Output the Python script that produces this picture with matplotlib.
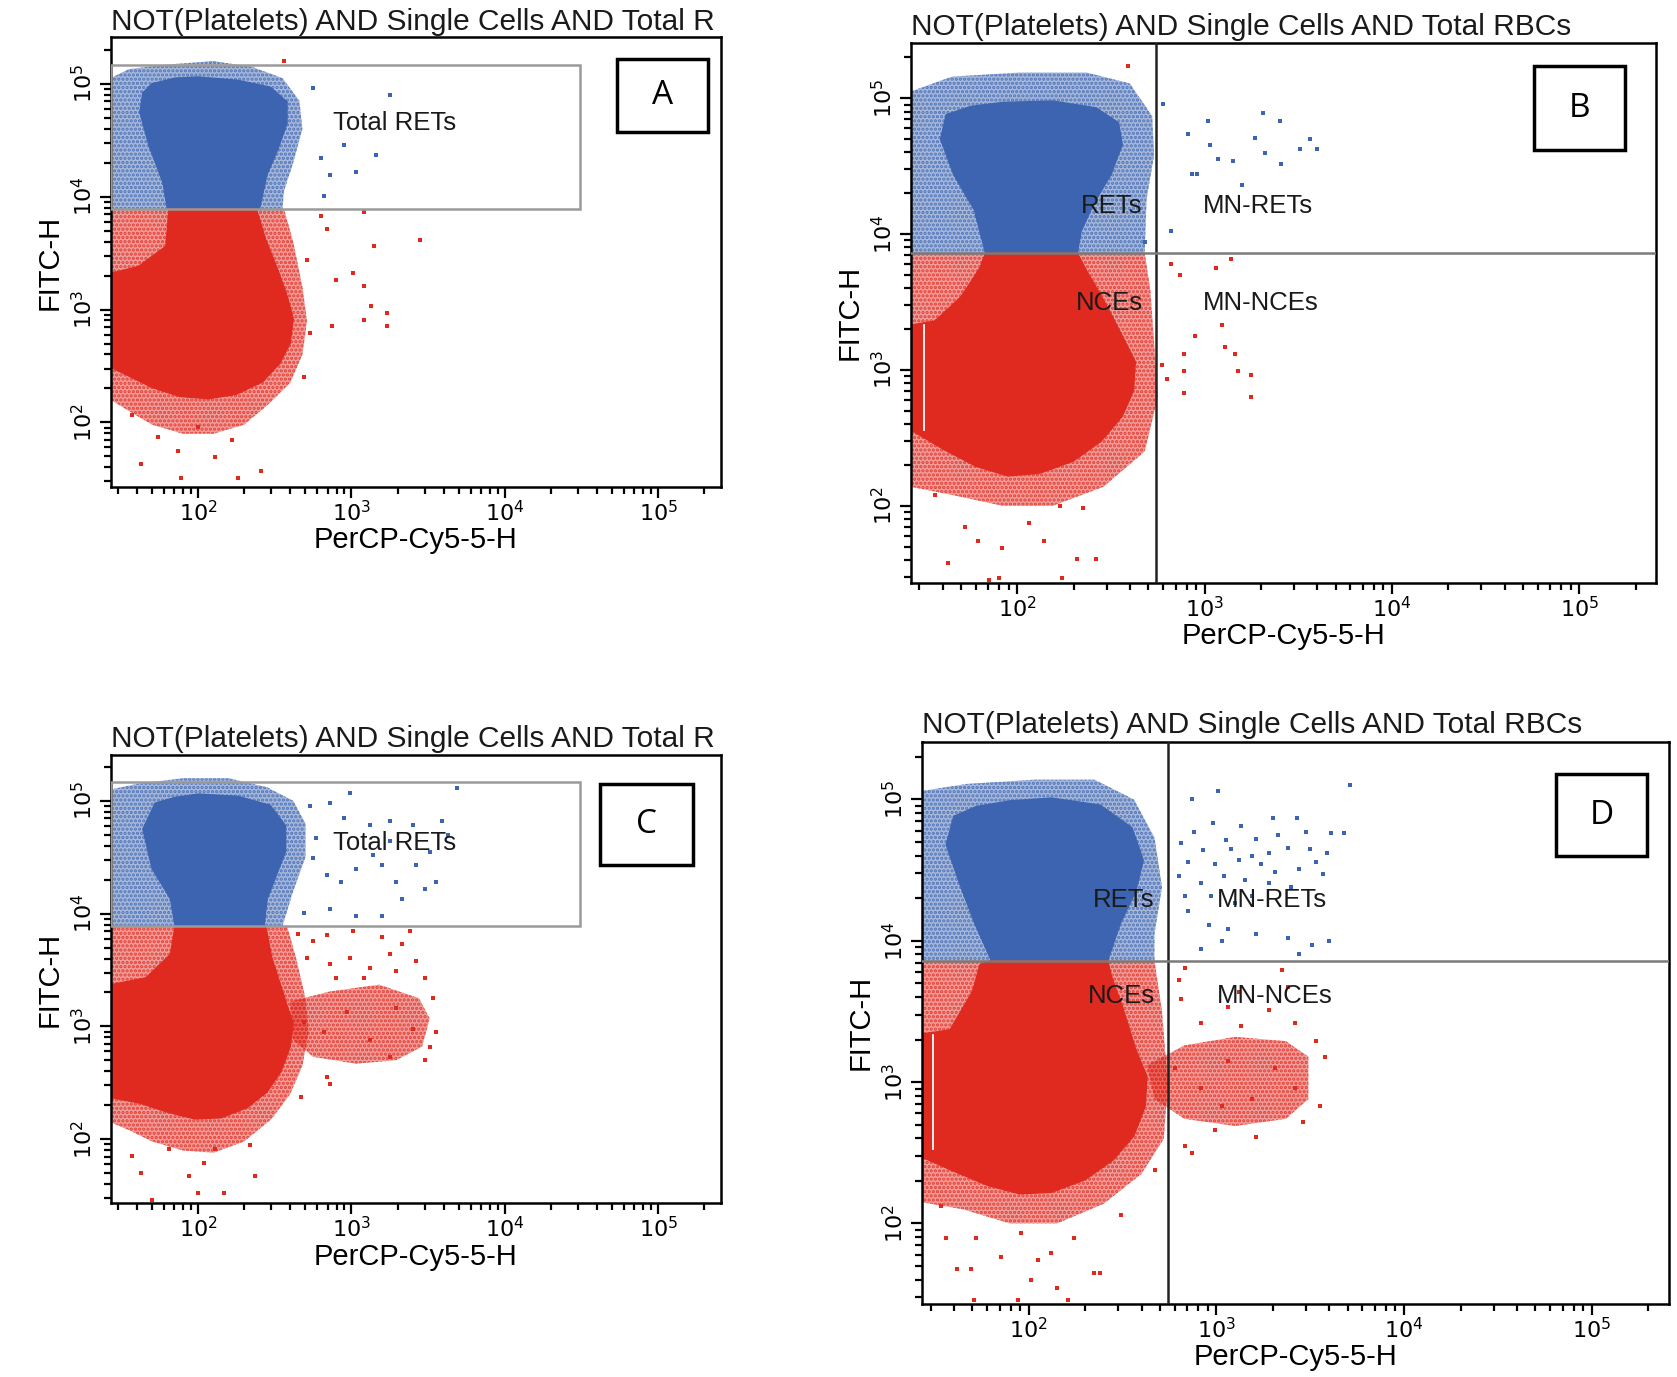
import numpy as np
import matplotlib
matplotlib.use("Agg")
import matplotlib.pyplot as plt
from matplotlib.patches import Rectangle
from matplotlib.ticker import LogLocator, NullFormatter, FixedLocator

plt.rcParams['font.family'] = ['Liberation Sans', 'DejaVu Sans']
plt.rcParams['hatch.linewidth'] = 1.6

BLUE = '#3d64b0'
RED = '#e0291f'

# axis range (log10) shared by every panel
LOG_MIN, LOG_MAX = 1.43, 5.41

titles = ["NOT(Platelets) AND Single Cells AND Total R",
          "NOT(Platelets) AND Single Cells AND Total RBCs",
          "NOT(Platelets) AND Single Cells AND Total R",
          "NOT(Platelets) AND Single Cells AND Total RBCs"]
panel_letters = ["A", "B", "C", "D"]

# gates (log10 values)
rets_gate_a = [LOG_MIN, 4.49, 3.89, 5.17]   # x0, x1, y0, y1
rets_gate_c = [LOG_MIN, 4.49, 3.89, 5.17]
quad_b = [2.74, 3.86]                         # vertical x, horizontal y
quad_d = [2.74, 3.86]

# ---- cloud outlines, (log10 x, log10 y) ----
a_blue_halo = [(1.43, 5.05), (1.55, 5.13), (1.8, 5.17), (2.1, 5.2), (2.35, 5.15), (2.55, 5.05),
               (2.66, 4.85), (2.68, 4.6), (2.62, 4.3), (2.56, 4.05), (2.55, 3.89), (1.43, 3.89)]
a_blue_core = [(1.70, 5.0), (1.85, 5.05), (2.0, 5.06), (2.26, 5.03), (2.47, 4.97), (2.58, 4.84),
               (2.58, 4.65), (2.52, 4.42), (2.45, 4.20), (2.40, 3.89), (1.80, 3.89), (1.77, 4.13),
               (1.68, 4.45), (1.62, 4.75), (1.64, 4.92)]
a_red_halo = [(1.43, 3.89), (2.56, 3.89), (2.62, 3.6), (2.68, 3.2), (2.71, 2.9), (2.68, 2.6),
              (2.6, 2.35), (2.45, 2.15), (2.3, 1.98), (2.1, 1.9), (1.9, 1.9), (1.7, 1.98),
              (1.55, 2.1), (1.43, 2.2)]
a_red_core = [(1.81, 3.89), (2.38, 3.89), (2.44, 3.62), (2.52, 3.35), (2.58, 3.12), (2.62, 2.92),
              (2.60, 2.70), (2.53, 2.52), (2.42, 2.36), (2.25, 2.25), (2.07, 2.21), (1.88, 2.23),
              (1.70, 2.31), (1.55, 2.41), (1.43, 2.49), (1.43, 3.32), (1.61, 3.38), (1.79, 3.56)]

b_blue_halo = [(1.43, 5.05), (1.65, 5.16), (2.01, 5.19), (2.37, 5.19), (2.60, 5.11), (2.72, 4.87),
               (2.73, 4.58), (2.69, 4.26), (2.68, 3.86), (1.43, 3.86)]
b_blue_core = [(1.62, 4.88), (1.75, 4.94), (1.92, 4.97), (2.19, 4.98), (2.42, 4.93), (2.54, 4.82),
               (2.56, 4.66), (2.50, 4.44), (2.41, 4.23), (2.34, 4.02), (2.32, 3.86), (1.83, 3.86),
               (1.77, 4.18), (1.66, 4.44), (1.59, 4.70)]
b_red_halo = [(1.43, 3.86), (2.68, 3.86), (2.71, 3.59), (2.73, 3.20), (2.75, 2.80), (2.68, 2.40),
              (2.46, 2.14), (2.19, 2.00), (1.92, 2.00), (1.65, 2.08), (1.43, 2.14)]
b_red_core = [(1.83, 3.86), (2.32, 3.86), (2.37, 3.73), (2.47, 3.49), (2.56, 3.25), (2.63, 3.06),
              (2.62, 2.85), (2.56, 2.66), (2.45, 2.48), (2.30, 2.33), (2.12, 2.24), (1.95, 2.22),
              (1.78, 2.29), (1.60, 2.42), (1.43, 2.56), (1.43, 3.33), (1.56, 3.36), (1.70, 3.54),
              (1.80, 3.75)]

c_blue_halo = [(1.43, 5.10), (1.6, 5.15), (1.9, 5.2), (2.2, 5.2), (2.45, 5.12), (2.62, 5.0),
               (2.7, 4.8), (2.7, 4.5), (2.62, 4.2), (2.55, 3.89), (1.43, 3.89)]
c_blue_core = [(1.72, 4.98), (1.85, 5.03), (2.0, 5.06), (2.26, 5.04), (2.47, 4.96), (2.57, 4.78),
               (2.57, 4.55), (2.51, 4.34), (2.45, 4.13), (2.43, 3.89), (1.85, 3.89), (1.82, 4.13),
               (1.70, 4.40), (1.64, 4.75)]
c_red_halo = [(1.43, 3.89), (2.58, 3.89), (2.64, 3.6), (2.7, 3.25), (2.72, 2.95), (2.68, 2.65),
              (2.6, 2.4), (2.48, 2.18), (2.3, 1.98), (2.1, 1.88), (1.9, 1.9), (1.7, 1.98),
              (1.55, 2.08), (1.43, 2.15)]
c_red_core = [(1.85, 3.89), (2.44, 3.89), (2.48, 3.61), (2.56, 3.27), (2.62, 3.02), (2.60, 2.82),
              (2.54, 2.60), (2.45, 2.42), (2.32, 2.28), (2.15, 2.19), (1.98, 2.18), (1.80, 2.24),
              (1.62, 2.32), (1.43, 2.37), (1.43, 3.37), (1.66, 3.43), (1.82, 3.64)]
c_red_tail = [(2.60, 3.22), (2.86, 3.31), (3.18, 3.37), (3.44, 3.25), (3.51, 3.07), (3.46, 2.82),
              (3.29, 2.70), (3.03, 2.67), (2.75, 2.73), (2.62, 2.88)]

d_blue_halo = [(1.43, 5.06), (1.67, 5.11), (2.03, 5.14), (2.35, 5.14), (2.56, 5.0), (2.67, 4.73),
               (2.71, 4.38), (2.67, 4.05), (2.67, 3.86), (1.43, 3.86)]
d_blue_core = [(1.60, 4.88), (1.72, 4.95), (1.90, 4.99), (2.12, 5.01), (2.38, 4.96), (2.55, 4.80),
               (2.61, 4.57), (2.57, 4.35), (2.49, 4.13), (2.42, 3.86), (1.80, 3.86), (1.71, 4.13),
               (1.63, 4.41), (1.56, 4.68)]
d_red_halo = [(1.43, 3.86), (2.67, 3.86), (2.71, 3.5), (2.74, 3.0), (2.72, 2.6), (2.6, 2.35),
              (2.4, 2.14), (2.15, 2.0), (1.9, 2.0), (1.65, 2.1), (1.43, 2.15)]
d_red_core = [(1.80, 3.86), (2.42, 3.86), (2.44, 3.75), (2.50, 3.53), (2.57, 3.23), (2.63, 3.04),
              (2.62, 2.83), (2.56, 2.62), (2.45, 2.45), (2.30, 2.31), (2.12, 2.22), (1.95, 2.21),
              (1.78, 2.27), (1.60, 2.37), (1.43, 2.47), (1.43, 3.34), (1.58, 3.37), (1.70, 3.64),
              (1.74, 3.83)]
d_red_tail = [(2.63, 3.12), (2.83, 3.26), (3.10, 3.32), (3.37, 3.29), (3.49, 3.18), (3.49, 2.88),
              (3.37, 2.74), (3.10, 2.69), (2.83, 2.74), (2.67, 2.88)]

# ---- scattered single events, (log10 x, log10 y) ----
a_blue_pts = [(2.75, 4.96), (2.80, 4.34), (2.82, 4.01), (2.95, 4.46), (3.03, 4.22), (3.16, 4.37),
              (2.86, 4.19), (3.25, 4.90)]
a_red_pts = [(2.80, 3.83), (2.84, 3.71), (3.08, 3.86), (3.15, 3.56), (3.01, 3.32), (2.90, 3.26),
             (3.08, 3.21), (3.13, 3.03), (3.23, 2.97), (3.08, 2.91), (3.23, 2.85), (2.87, 2.85),
             (3.45, 3.62), (2.71, 3.44), (2.73, 2.79), (2.69, 2.40), (1.63, 1.63), (1.89, 1.51),
             (2.26, 1.51), (2.41, 1.57), (1.74, 1.87), (1.87, 1.75), (2.11, 1.69), (2.22, 1.84),
             (2.0, 1.96), (1.57, 2.07), (2.56, 5.20)]

b_blue_pts = [(2.78, 4.96), (2.91, 4.74), (3.02, 4.83), (3.03, 4.66), (2.96, 4.44), (3.07, 4.55),
              (3.31, 4.89), (3.40, 4.83), (3.27, 4.71), (3.41, 4.52), (3.51, 4.63), (3.56, 4.70),
              (3.60, 4.63), (3.32, 4.60), (3.15, 4.54), (3.20, 4.36), (2.82, 4.02), (2.93, 4.44),
              (2.68, 3.94)]
b_red_pts = [(1.56, 2.08), (1.72, 1.84), (1.79, 1.74), (1.92, 1.69), (2.06, 1.87), (2.14, 1.74),
             (2.23, 2.0), (2.35, 1.98), (2.32, 1.61), (1.63, 1.58), (1.85, 1.45), (1.90, 1.47),
             (2.24, 1.47), (2.42, 1.61), (2.82, 3.78), (2.87, 3.70), (3.06, 3.75), (3.14, 3.82),
             (2.95, 3.25), (2.89, 3.12), (2.89, 2.99), (2.89, 2.83), (2.80, 2.93), (3.11, 3.17),
             (3.16, 3.12), (3.18, 2.99), (3.25, 2.96), (3.25, 2.80), (2.77, 3.04), (3.09, 3.33),
             (2.59, 5.24)]

c_blue_pts = [(2.73, 4.95), (2.86, 4.98), (2.99, 5.07), (3.25, 4.82), (3.59, 4.82), (3.69, 5.11),
              (2.77, 4.67), (2.84, 4.34), (2.93, 4.28), (3.03, 4.40), (3.12, 4.79), (3.14, 4.52),
              (3.20, 4.43), (3.29, 4.28), (3.33, 4.13), (3.42, 4.43), (3.48, 4.22), (3.55, 4.28),
              (3.03, 3.98), (3.20, 3.98), (2.86, 4.04), (2.69, 4.01), (2.75, 4.49), (3.63, 4.70),
              (2.95, 4.85), (3.25, 4.64), (3.40, 4.79), (3.51, 4.55)]
c_red_pts = [(2.65, 3.82), (2.75, 3.76), (2.84, 3.81), (3.01, 3.85), (3.20, 3.79), (3.38, 3.85),
             (2.71, 3.61), (2.86, 3.55), (2.99, 3.61), (3.12, 3.52), (3.25, 3.64), (3.33, 3.73),
             (3.42, 3.58), (3.48, 3.43), (2.90, 3.43), (3.08, 3.43), (3.29, 3.49), (3.53, 3.25),
             (3.51, 2.82), (3.48, 2.70), (2.86, 2.49), (2.67, 2.37), (2.84, 2.55), (2.69, 3.04),
             (2.82, 2.95), (2.97, 3.13), (3.12, 2.88), (3.29, 3.16), (3.40, 2.98), (3.25, 2.73),
             (3.55, 2.95), (1.63, 1.70), (1.70, 1.46), (2.0, 1.52), (2.17, 1.52), (2.37, 1.67),
             (1.94, 1.67), (1.81, 1.91), (1.57, 1.85), (2.11, 1.91), (2.34, 1.95), (2.04, 1.79)]

d_blue_pts = [(3.01, 5.06), (3.71, 5.10), (2.87, 5.0), (3.30, 4.87), (3.43, 4.87), (2.98, 4.83),
              (3.13, 4.81), (2.88, 4.77), (3.05, 4.71), (3.21, 4.72), (3.33, 4.75), (3.48, 4.77),
              (3.68, 4.76), (3.61, 4.76), (2.81, 4.69), (2.93, 4.64), (3.08, 4.65), (3.19, 4.60),
              (3.28, 4.62), (3.38, 4.66), (3.50, 4.65), (3.59, 4.62), (2.85, 4.56), (2.99, 4.54),
              (3.12, 4.57), (3.24, 4.54), (3.31, 4.49), (3.44, 4.51), (3.53, 4.56), (3.57, 4.47),
              (2.80, 4.46), (2.92, 4.41), (3.04, 4.46), (3.15, 4.43), (3.28, 4.41), (3.40, 4.38),
              (2.83, 4.32), (2.97, 4.32), (3.10, 4.27), (3.19, 4.32), (2.96, 4.11), (3.06, 4.08),
              (3.21, 4.05), (3.38, 4.02), (3.51, 3.97), (2.92, 3.94), (3.44, 3.91), (3.60, 4.0),
              (2.85, 4.21), (3.03, 4.0)]
d_red_pts = [(2.83, 3.81), (3.35, 3.79), (2.81, 3.59), (3.12, 3.64), (3.38, 3.67), (2.92, 3.42),
             (3.13, 3.40), (3.53, 3.29), (3.58, 3.18), (2.87, 2.50), (2.83, 2.55), (2.99, 2.66),
             (3.21, 2.61), (3.46, 2.72), (3.55, 2.83), (2.80, 3.72), (3.06, 3.53), (3.28, 3.51),
             (3.42, 3.42), (2.78, 3.10), (2.92, 2.96), (3.06, 3.15), (3.19, 2.88), (3.31, 3.10),
             (3.42, 2.96), (3.03, 2.83), (1.53, 2.12), (1.62, 1.68), (1.69, 1.68), (1.85, 1.76),
             (2.05, 1.74), (2.15, 1.54), (2.35, 1.65), (2.38, 1.65), (2.01, 1.60), (1.56, 1.90),
             (1.72, 1.90), (1.96, 1.93), (2.24, 1.90), (2.12, 1.79), (2.49, 2.06), (2.67, 2.38),
             (1.71, 1.46), (1.94, 1.46), (2.21, 1.46)]

# thin white artefact line inside the red cloud of B and D
white_line_b = [1.50, 2.56, 3.33]
white_line_d = [1.49, 2.53, 3.33]

# gate label text: (text, log10 x, log10 y, ha)
labels_a = [("Total RETs", 2.88, 4.65, 'left')]
labels_c = [("Total RETs", 2.88, 4.63, 'left')]
labels_b = [("RETs", 2.67, 4.21, 'right'), ("MN-RETs", 2.99, 4.21, 'left'),
            ("NCEs", 2.67, 3.49, 'right'), ("MN-NCEs", 2.99, 3.49, 'left')]
labels_d = [("RETs", 2.67, 4.29, 'right'), ("MN-RETs", 3.00, 4.29, 'left'),
            ("NCEs", 2.67, 3.61, 'right'), ("MN-NCEs", 3.00, 3.61, 'left')]

# figure layout
axes_pos = [[0.066, 0.6465, 0.364, 0.3263],
            [0.543, 0.5765, 0.4445, 0.3925],
            [0.066, 0.126, 0.364, 0.326],
            [0.5497, 0.0530, 0.4453, 0.4085]]
letter_boxes = [[0.368, 0.904, 0.054, 0.053],
                [0.915, 0.891, 0.054, 0.061],
                [0.358, 0.372, 0.055, 0.059],
                [0.928, 0.378, 0.054, 0.060]]


def fill_cloud(ax, pts, color, halo=False):
    p = 10.0 ** np.asarray(pts)
    if halo:
        ax.fill(p[:, 0], p[:, 1], facecolor=color, alpha=0.45, edgecolor='none', zorder=1)
        ax.fill(p[:, 0], p[:, 1], facecolor='none', edgecolor=color, hatch='....',
                linewidth=0, alpha=0.8, zorder=1)
    else:
        ax.fill(p[:, 0], p[:, 1], facecolor=color, edgecolor=color, linewidth=1, zorder=2)


def scatter_pts(ax, pts, color):
    p = 10.0 ** np.asarray(pts)
    ax.scatter(p[:, 0], p[:, 1], s=8, marker='s', color=color, linewidths=0, zorder=3)


def style_axes(ax):
    ax.set_xscale('log')
    ax.set_yscale('log')
    ax.set_xlim(10 ** LOG_MIN, 10 ** LOG_MAX)
    ax.set_ylim(10 ** LOG_MIN, 10 ** LOG_MAX)
    ax.xaxis.set_major_locator(FixedLocator([1e2, 1e3, 1e4, 1e5]))
    ax.yaxis.set_major_locator(FixedLocator([1e2, 1e3, 1e4, 1e5]))
    ax.xaxis.set_minor_locator(LogLocator(base=10, subs=np.arange(2, 10)))
    ax.yaxis.set_minor_locator(LogLocator(base=10, subs=np.arange(2, 10)))
    ax.xaxis.set_minor_formatter(NullFormatter())
    ax.yaxis.set_minor_formatter(NullFormatter())
    ax.set_xticklabels([r'$10^{2}$', r'$10^{3}$', r'$10^{4}$', r'$10^{5}$'], fontsize=16)
    ax.set_yticklabels([r'$10^{2}$', r'$10^{3}$', r'$10^{4}$', r'$10^{5}$'], fontsize=16,
                       rotation=90, va='center')
    ax.tick_params(which='major', direction='out', length=8, width=1.6, pad=2)
    ax.tick_params(which='minor', direction='out', length=5, width=1.6)
    for s in ax.spines.values():
        s.set_linewidth(1.8)
    ax.set_xlabel("PerCP-Cy5-5-H", fontsize=21, labelpad=0)
    ax.set_ylabel("FITC-H", fontsize=21, labelpad=6)


fig = plt.figure(figsize=(16.77, 13.77), dpi=100)

panels = [
    (a_blue_halo, a_blue_core, a_red_halo, a_red_core, None, a_blue_pts, a_red_pts, labels_a),
    (b_blue_halo, b_blue_core, b_red_halo, b_red_core, None, b_blue_pts, b_red_pts, labels_b),
    (c_blue_halo, c_blue_core, c_red_halo, c_red_core, c_red_tail, c_blue_pts, c_red_pts, labels_c),
    (d_blue_halo, d_blue_core, d_red_halo, d_red_core, d_red_tail, d_blue_pts, d_red_pts, labels_d),
]

for i, (bh, bc, rh, rc, tail, bpts, rpts, labs) in enumerate(panels):
    ax = fig.add_axes(axes_pos[i])
    style_axes(ax)
    fill_cloud(ax, bh, BLUE, halo=True)
    fill_cloud(ax, rh, RED, halo=True)
    if tail is not None:
        fill_cloud(ax, tail, RED, halo=True)
    fill_cloud(ax, bc, BLUE)
    fill_cloud(ax, rc, RED)
    scatter_pts(ax, bpts, BLUE)
    scatter_pts(ax, rpts, RED)

    if i in (0, 2):
        g = rets_gate_a if i == 0 else rets_gate_c
        x0, x1, y0, y1 = [10 ** v for v in g]
        ax.add_patch(Rectangle((x0, y0), x1 - x0, y1 - y0, fill=False, edgecolor='#9a9a9a',
                               linewidth=1.8, zorder=4))
    else:
        qx, qy = quad_b if i == 1 else quad_d
        ax.axvline(10 ** qx, color='#222222', linewidth=1.8, zorder=4)
        ax.axhline(10 ** qy, color='#7a7a7a', linewidth=1.8, zorder=4)
        wl = white_line_b if i == 1 else white_line_d
        ax.plot([10 ** wl[0]] * 2, [10 ** wl[1], 10 ** wl[2]], color='white', linewidth=1.3,
                zorder=3)

    for txt, lx, ly, ha in labs:
        ax.text(10 ** lx, 10 ** ly, txt, ha=ha, va='center', fontsize=18.5, color='#1a1a1a',
                zorder=5)

    ax.text(0.0, 1.004, titles[i], transform=ax.transAxes, ha='left', va='bottom',
            fontsize=21.5, color='#1a1a1a')

    bx, by, bw, bhh = letter_boxes[i]
    fig.add_artist(Rectangle((bx, by), bw, bhh, transform=fig.transFigure, fill=False,
                             edgecolor='black', linewidth=2.5))
    fig.text(bx + bw / 2, by + bhh / 2, panel_letters[i], ha='center', va='center',
             fontsize=24, family=['Open Sans', 'DejaVu Sans'])

fig.savefig("out.png", dpi=100, facecolor='white')
